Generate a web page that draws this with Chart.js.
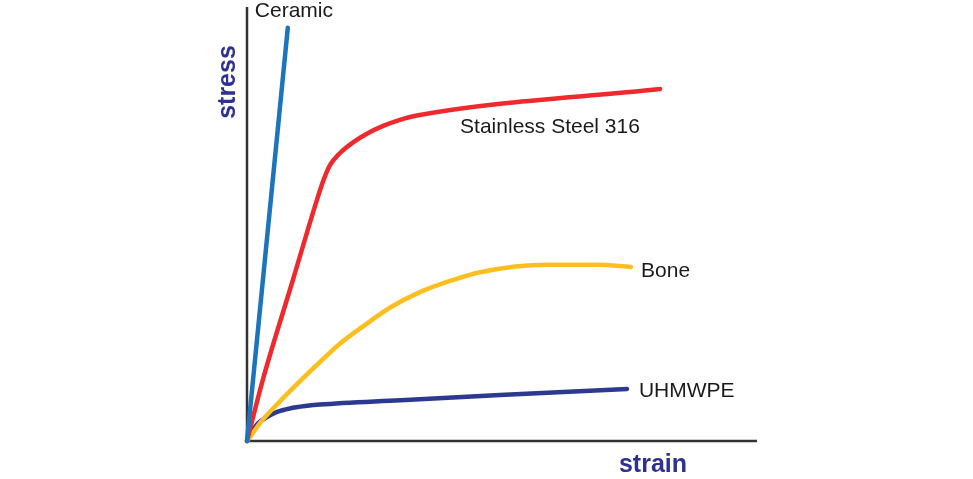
<!DOCTYPE html>
<html>
<head>
<meta charset="utf-8">
<title>stress - strain</title>
<script src="https://cdn.jsdelivr.net/npm/chart.js@4.4.0/dist/chart.umd.min.js"></script>
<style>
    html, body { margin: 0; padding: 0; background: #ffffff; }
    #wrap { width: 973px; height: 479px; position: relative; }
</style>
</head>
<body>
<div id="wrap"><canvas id="stressChart"></canvas></div>
<script>
// curve names (labels written next to each curve)
const materials = ['Ceramic', 'Stainless Steel 316', 'Bone', 'UHMWPE'];

// axis titles
const xTitle = 'strain';
const yTitle = 'stress';

// values (strain 0-100, stress 0-100, no units on the original)
const ceramicStrain = [0, 8.0];
const ceramicStress = [0, 95.2];

const steelStrain = [0, 3.1, 9.0, 13.7, 15.0, 16.3, 18.2, 20.8, 23.5, 26.7, 30.0, 33.3, 81.0];
const steelStress = [0, 14.1, 37.1, 55.5, 60.1, 63.6, 66.3, 68.8, 70.8, 72.6, 74.0, 75.0, 81.1];

const boneStrain = [0, 1.0, 2.6, 6.5, 10.4, 14.3, 18.2, 23.1, 28.0, 33.9, 40.4, 45.7, 58.8, 68.6, 75.3];
const boneStress = [0, 1.6, 4.2, 9.2, 13.8, 18.2, 22.4, 26.7, 30.7, 34.3, 37.1, 38.9, 40.6, 40.6, 40.1];

const peStrain = [0, 0.6, 1.2, 2.2, 3.9, 5.9, 8.4, 11.8, 14.3, 30.0, 49.6, 74.5];
const peStress = [0, 1.4, 2.6, 4.1, 5.5, 6.7, 7.5, 8.1, 8.4, 9.4, 10.6, 12.0];

function toPoints(xs, ys) {
    return xs.map((x, i) => ({ x: x, y: ys[i] }));
}

const FONT = '"Liberation Sans", Arial, Helvetica, sans-serif';

// axes + texts, drawn by hand because the original has no ticks
const sketchPlugin = {
    id: 'sketch',
    beforeDatasetsDraw(chart) {
        const ctx = chart.ctx;
        const xs = chart.scales.x;
        const ys = chart.scales.y;
        const x0 = xs.getPixelForValue(0);
        const y0 = ys.getPixelForValue(0);
        ctx.save();
        ctx.strokeStyle = '#333333';
        ctx.lineWidth = 2.5;
        ctx.beginPath();
        ctx.moveTo(x0, ys.getPixelForValue(ys.max));
        ctx.lineTo(x0, y0 + 1);
        ctx.moveTo(x0 - 1, y0);
        ctx.lineTo(xs.getPixelForValue(xs.max), y0);
        ctx.stroke();
        ctx.restore();
    },
    afterDatasetsDraw(chart) {
        const ctx = chart.ctx;
        const area = chart.chartArea;
        ctx.save();

        // curve labels, placed from the last point of every curve
        const offsets = [[-33, -11], [-200, 44], [10, 10], [12, 8]];
        ctx.fillStyle = '#1a1a1a';
        ctx.font = '21px ' + FONT;
        ctx.textAlign = 'left';
        ctx.textBaseline = 'alphabetic';
        chart.data.datasets.forEach((ds, i) => {
            const meta = chart.getDatasetMeta(i);
            const last = meta.data[meta.data.length - 1];
            ctx.fillText(materials[i], last.x + offsets[i][0], last.y + offsets[i][1]);
        });

        // axis titles
        ctx.fillStyle = '#2e3192';
        ctx.font = 'bold 25px ' + FONT;
        ctx.textAlign = 'center';
        ctx.fillText(xTitle, area.right - 104, area.bottom + 31);

        ctx.translate(area.left - 12, area.top + 75);
        ctx.rotate(-Math.PI / 2);
        ctx.fillText(yTitle, 0, 0);
        ctx.restore();
    }
};

document.addEventListener('DOMContentLoaded', function() {
    const ctx = document.getElementById('stressChart').getContext('2d');

    const lineStyle = {
        showLine: true,
        pointRadius: 0,
        borderWidth: 4.5,
        fill: false,
        clip: false,
        cubicInterpolationMode: 'monotone',
        borderCapStyle: 'round',
        borderJoinStyle: 'round'
    };

    new Chart(ctx, {
        type: 'scatter',
        data: {
            datasets: [
                Object.assign({ label: materials[0], data: toPoints(ceramicStrain, ceramicStress), borderColor: '#1c75bc' }, lineStyle),
                Object.assign({ label: materials[1], data: toPoints(steelStrain, steelStress), borderColor: '#ee2a2e' }, lineStyle),
                Object.assign({ label: materials[2], data: toPoints(boneStrain, boneStress), borderColor: '#fcbf1e' }, lineStyle),
                Object.assign({ label: materials[3], data: toPoints(peStrain, peStress), borderColor: '#2b3990' }, lineStyle)
            ]
        },
        options: {
            responsive: true,
            maintainAspectRatio: false,
            animation: false,
            layout: {
                padding: { left: 247, right: 216, top: 7, bottom: 38 }
            },
            plugins: {
                legend: { display: false },
                tooltip: { enabled: false }
            },
            scales: {
                x: { type: 'linear', min: 0, max: 100, display: false },
                y: { type: 'linear', min: 0, max: 100, display: false }
            }
        },
        plugins: [sketchPlugin]
    });
});
</script>
</body>
</html>
